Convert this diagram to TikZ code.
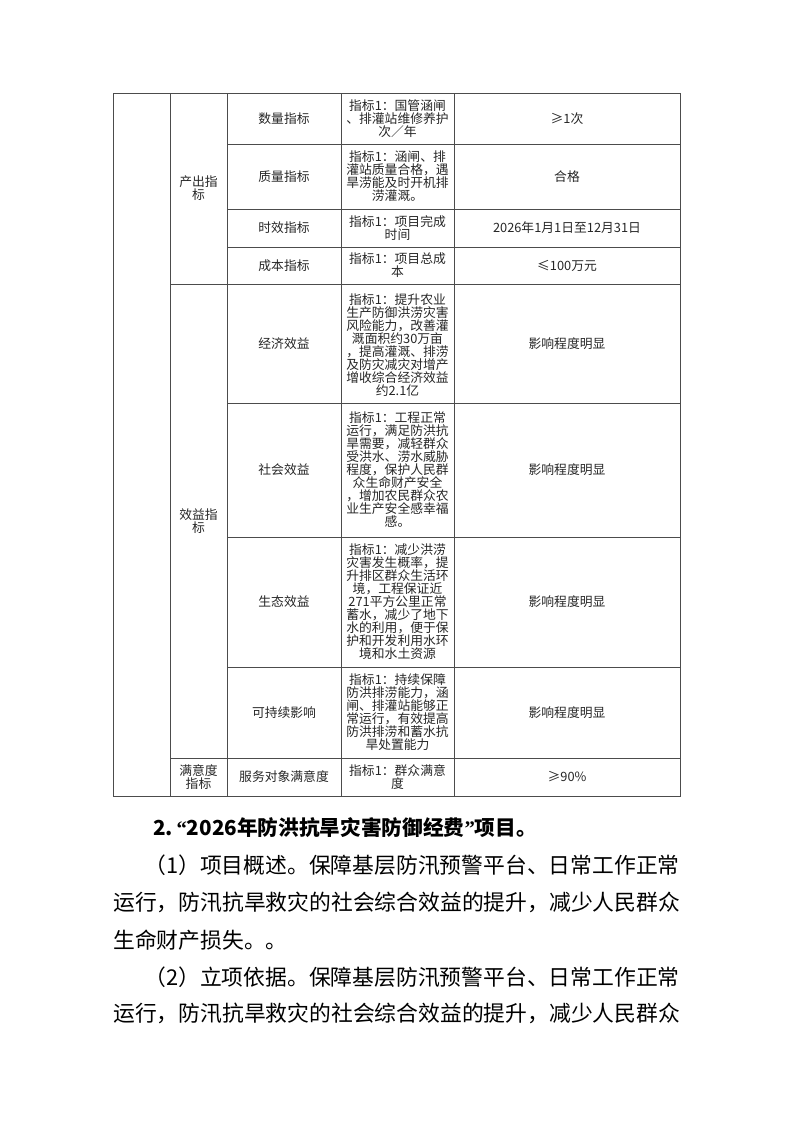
\documentclass[tikz,border=0pt]{standalone}
\usepackage{fontspec}
\newfontfamily\cjk{Noto Sans CJK SC}
\newfontfamily\lat{Liberation Serif}
\newcommand\lquote{{\lat “}}
\newcommand\rquote{{\lat ”}}

\tikzset{
	grid line/.style={draw=black!70, line width=0.75pt},
	cell/.style={align=center, inner sep=0pt, text=black!85, font=\cjk\fontsize{9.6}{9.75}\selectfont},
	body/.style={inner sep=0pt, anchor=west, font=\cjk\fontsize{16.35}{20}\selectfont},
}

\begin{document}
\begin{tikzpicture}[x=0.75pt, y=-0.75pt]
	\useasboundingbox (0,0) rectangle (793,1122);
	%\draw [help lines, step=50] (0,0) grid (793,1122);
	\draw [grid line] (113,93) rectangle (680,796);
	\draw [grid line] (170,93) -- (170,796);
	\draw [grid line] (227,93) -- (227,796);
	\draw [grid line] (341,93) -- (341,796);
	\draw [grid line] (454,93) -- (454,796);
	\foreach \y in {144,209,247,403,537,667}
		\draw [grid line] (227,\y) -- (680,\y);
	\draw [grid line] (170,284) -- (680,284);
	\draw [grid line] (170,758) -- (680,758);

	% second column
	\node [cell] (output) at (198.5,188.5) {产出指\\标};
	\node [cell] (benefit) at (198.5,521) {效益指\\标};
	\node [cell] (satis) at (198.5,777) {满意度\\指标};

	% rows
	\node [cell] (qty) at (284,118.5) {数量指标};
	\node [cell] (qty-ind) at (397.5,118.5) {指标1：国管涵闸\\、排灌站维修养护\\次／年};
	\node [cell] (qty-val) at (567,118.5) {≥1次};

	\node [cell] (qual) at (284,176.5) {质量指标};
	\node [cell] (qual-ind) at (397.5,176.5) {指标1：涵闸、排\\灌站质量合格，遇\\旱涝能及时开机排\\涝灌溉。};
	\node [cell] (qual-val) at (567,176.5) {合格};

	\node [cell] (time) at (284,228) {时效指标};
	\node [cell] (time-ind) at (397.5,228) {指标1：项目完成\\时间};
	\node [cell] (time-val) at (567,228) {2026年1月1日至12月31日};

	\node [cell] (cost) at (284,265.5) {成本指标};
	\node [cell] (cost-ind) at (397.5,265.5) {指标1：项目总成\\本};
	\node [cell] (cost-val) at (567,265.5) {≤100万元};

	\node [cell] (econ) at (284,343.5) {经济效益};
	\node [cell] (econ-ind) at (397.5,345) {指标1：提升农业\\生产防御洪涝灾害\\风险能力，改善灌\\溉面积约30万亩\\，提高灌溉、排涝\\及防灾减灾对增产\\增收综合经济效益\\约2.1亿};
	\node [cell] (econ-val) at (567,343.5) {影响程度明显};

	\node [cell] (soc) at (284,470) {社会效益};
	\node [cell] (soc-ind) at (397.5,470) {指标1：工程正常\\运行，满足防洪抗\\旱需要，减轻群众\\受洪水、涝水威胁\\程度，保护人民群\\众生命财产安全\\，增加农民群众农\\业生产安全感幸福\\感。};
	\node [cell] (soc-val) at (567,470) {影响程度明显};

	\node [cell] (eco) at (284,602) {生态效益};
	\node [cell] (eco-ind) at (397.5,602) {指标1：减少洪涝\\灾害发生概率，提\\升排区群众生活环\\境，工程保证近\\271平方公里正常\\蓄水，减少了地下\\水的利用，便于保\\护和开发利用水环\\境和水土资源};
	\node [cell] (eco-val) at (567,602) {影响程度明显};

	\node [cell] (sust) at (284,712.5) {可持续影响};
	\node [cell] (sust-ind) at (397.5,712.5) {指标1：持续保障\\防洪排涝能力，涵\\闸、排灌站能够正\\常运行，有效提高\\防洪排涝和蓄水抗\\旱处置能力};
	\node [cell] (sust-val) at (567,712.5) {影响程度明显};

	\node [cell] (serv) at (284,777) {服务对象满意度};
	\node [cell] (serv-ind) at (397.5,777) {指标1：群众满意\\度};
	\node [cell] (serv-val) at (567,777) {≥90\%};

	% text below the table
	\node [body, font=\cjk\bfseries\fontsize{15.5}{20}\selectfont] (head) at (153,828) {2.\,\lquote 2026年防洪抗旱灾害防御经费\rquote 项目。};
	\node [body, anchor=east] (par1a) at (680,865) {（1）项目概述。保障基层防汛预警平台、日常工作正常};
	\node [body] (par1b) at (113,902) {运行，防汛抗旱救灾的社会综合效益的提升，减少人民群众};
	\node [body] (par1c) at (113,940) {生命财产损失。。};
	\node [body, anchor=east] (par2a) at (680,977) {（2）立项依据。保障基层防汛预警平台、日常工作正常};
	\node [body] (par2b) at (113,1013) {运行，防汛抗旱救灾的社会综合效益的提升，减少人民群众};
\end{tikzpicture}
\end{document}
